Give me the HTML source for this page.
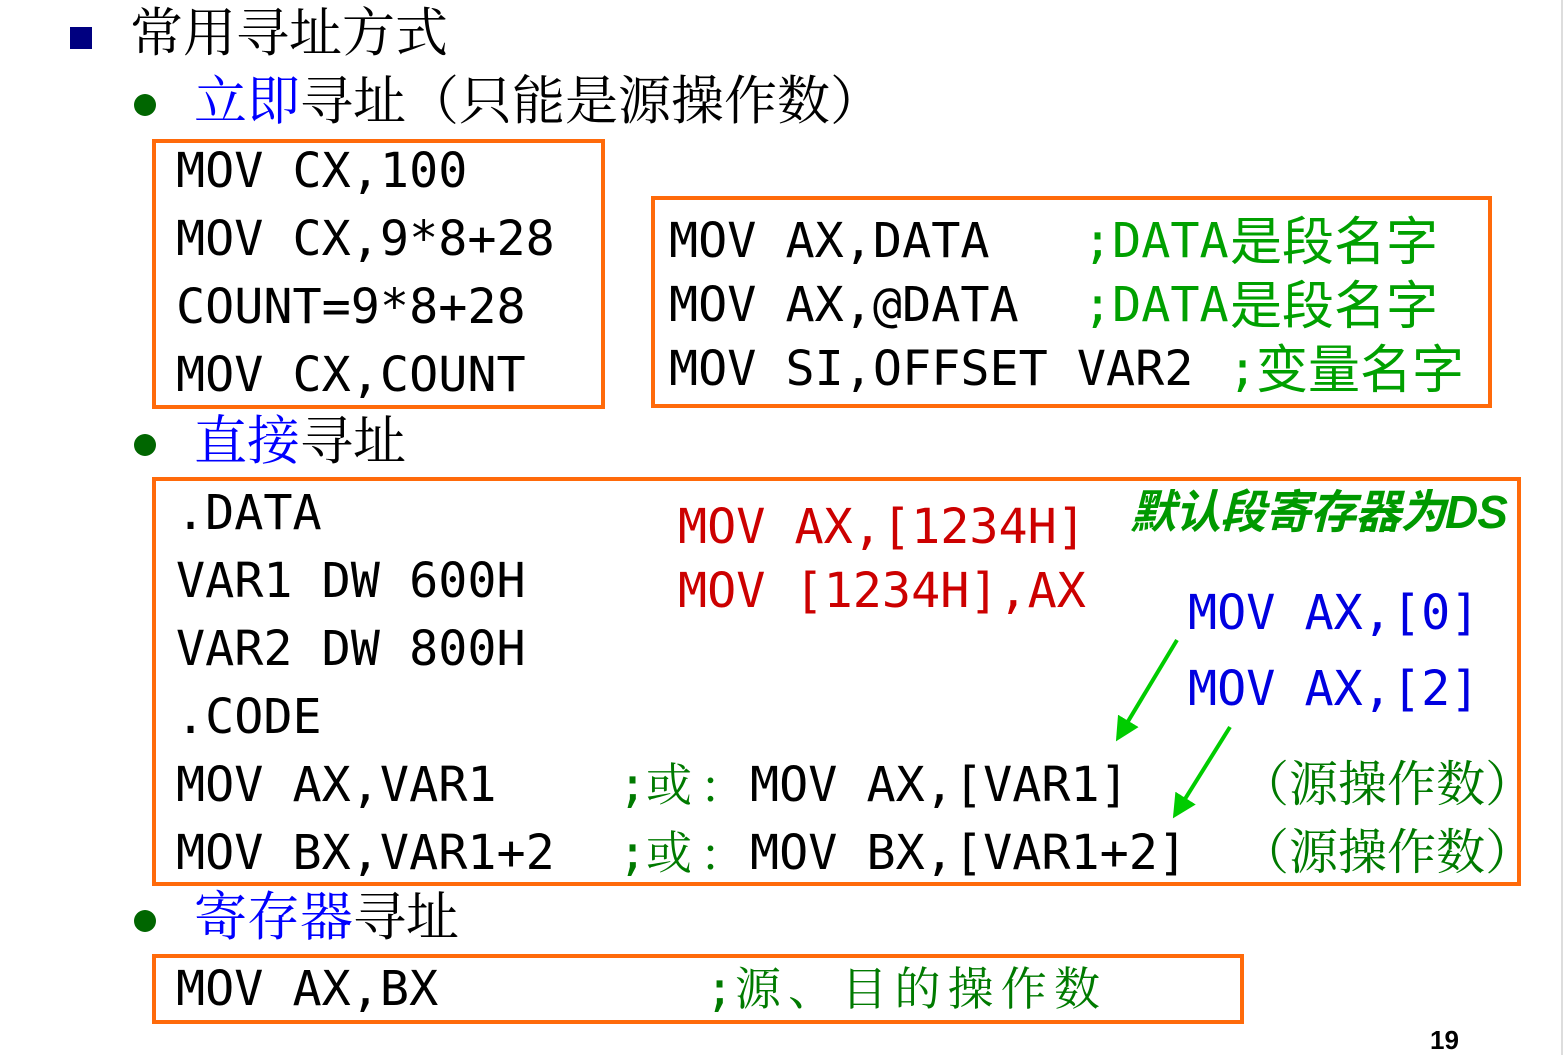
<!DOCTYPE html>
<html><head><meta charset="utf-8"><style>
body{margin:0;width:1568px;height:1055px;background:#fff;position:relative;overflow:hidden}
.a{position:absolute;white-space:pre;line-height:48px;font-family:"DejaVu Sans Mono","Liberation Mono","Noto Sans CJK SC",monospace;font-size:48.4px;color:#000}
.c{position:absolute;white-space:pre;line-height:52px;font-family:"Noto Sans CJK SC",sans-serif;font-size:50px;color:#00A000}
.h{position:absolute;white-space:pre;font-family:"Liberation Serif","Noto Serif CJK SC",serif;font-size:53px;line-height:56px;color:#000}
.box{position:absolute;border:4px solid #FF6A0A;box-sizing:border-box}
.r{color:#CC0000}.b{color:#0000E0}
.dot{position:absolute;width:22px;height:22px;border-radius:50%;background:#006600}
.sp{position:absolute;display:flex;justify-content:space-between;font-family:"Noto Serif CJK SC",serif;color:#007A00;font-size:46px;line-height:48px}
</style></head><body>
<div style="position:absolute;left:1561px;top:0;width:2px;height:1055px;background:#ddd"></div>
<div style="position:absolute;left:70px;top:27px;width:22px;height:22px;background:#000080"></div>
<div class="h" style="left:130px;top:6px">常用寻址方式</div>
<div class="dot" style="left:134px;top:94px"></div>
<div class="h" style="left:194px;top:74px"><span style="color:#0000ff">立即</span>寻址（只能是源操作数）</div>
<div class="box" style="left:152px;top:139px;width:453px;height:270px"></div>
<div class="a" style="left:176px;top:147px">MOV CX,100</div>
<div class="a" style="left:176px;top:215px">MOV CX,9*8+28</div>
<div class="a" style="left:176px;top:283px">COUNT=9*8+28</div>
<div class="a" style="left:176px;top:351px">MOV CX,COUNT</div>
<div class="box" style="left:651px;top:196px;width:841px;height:212px"></div>
<div class="a" style="left:669px;top:217px">MOV AX,DATA</div>
<div class="a" style="left:669px;top:281px">MOV AX,@DATA</div>
<div class="a" style="left:669px;top:345px">MOV SI,OFFSET VAR2</div>
<div class="a" style="left:1083px;top:217px;color:#00A000">;DATA</div>
<div class="a" style="left:1083px;top:281px;color:#00A000">;DATA</div>
<div class="a" style="left:1228px;top:345px;color:#00A000">;</div>
<div class="c" style="left:1230px;top:210px;font-size:52px;line-height:56px">是段名字</div>
<div class="c" style="left:1230px;top:274px;font-size:52px;line-height:56px">是段名字</div>
<div class="c" style="left:1256px;top:338px;font-size:52px;line-height:56px">变量名字</div>
<div class="dot" style="left:134px;top:434px"></div>
<div class="h" style="left:194px;top:414px"><span style="color:#0000ff">直接</span>寻址</div>
<div class="box" style="left:152px;top:477px;width:1369px;height:409px"></div>
<div class="a" style="left:176px;top:489px">.DATA</div>
<div class="a" style="left:176px;top:557px">VAR1 DW 600H</div>
<div class="a" style="left:176px;top:625px">VAR2 DW 800H</div>
<div class="a" style="left:176px;top:693px">.CODE</div>
<div class="a" style="left:176px;top:761px">MOV AX,VAR1</div>
<div class="a" style="left:176px;top:829px">MOV BX,VAR1+2</div>
<div class="a" style="left:618px;top:761px;color:#007A00">;</div>
<div class="a" style="left:618px;top:829px;color:#007A00">;</div>
<div class="sp" style="left:646px;top:758px;width:72px"><span>或</span><span>:</span></div>
<div class="sp" style="left:646px;top:826px;width:72px"><span>或</span><span>:</span></div>
<div class="a" style="left:750px;top:761px">MOV AX,[VAR1]</div>
<div class="a" style="left:750px;top:829px">MOV BX,[VAR1+2]</div>
<div class="sp" style="left:1240px;top:757px;width:272px;font-size:49px"><span>（</span><span>源</span><span>操</span><span>作</span><span>数</span><span>）</span></div>
<div class="sp" style="left:1240px;top:825px;width:272px;font-size:49px"><span>（</span><span>源</span><span>操</span><span>作</span><span>数</span><span>）</span></div>
<div class="a r" style="left:678px;top:503px">MOV AX,[1234H]</div>
<div class="a r" style="left:678px;top:567px">MOV [1234H],AX</div>
<div class="a b" style="left:1188px;top:589px">MOV AX,[0]</div>
<div class="a b" style="left:1188px;top:665px">MOV AX,[2]</div>
<div style="position:absolute;left:1130px;top:484px;font:italic bold 46px/56px 'Liberation Sans','Noto Sans CJK SC',sans-serif;color:#009900;white-space:pre;letter-spacing:-1px">默认段寄存器为DS</div>
<svg style="position:absolute;left:0;top:0" width="1568" height="1055">
<defs><marker id="m" markerWidth="6" markerHeight="6" refX="5" refY="3" orient="auto" markerUnits="strokeWidth"><path d="M0,0 L6,3 L0,6 z" fill="#00CC00"/></marker></defs>
<line x1="1177" y1="640" x2="1118" y2="738" stroke="#00CC00" stroke-width="4" marker-end="url(#m)"/>
<line x1="1230" y1="727" x2="1175" y2="815" stroke="#00CC00" stroke-width="4" marker-end="url(#m)"/>
</svg>
<div class="dot" style="left:134px;top:910px"></div>
<div class="h" style="left:194px;top:890px"><span style="color:#0000ff">寄存器</span>寻址</div>
<div class="box" style="left:152px;top:954px;width:1092px;height:70px"></div>
<div class="a" style="left:176px;top:965px">MOV AX,BX</div>
<div class="a" style="left:705px;top:965px;color:#007A00">;</div>
<div class="sp" style="left:735px;top:962px;width:365px"><span>源</span><span>、</span><span>目</span><span>的</span><span>操</span><span>作</span><span>数</span></div>
<div style="position:absolute;left:1430px;top:1025px;font:bold 26px 'Liberation Sans',sans-serif">19</div>
</body></html>
